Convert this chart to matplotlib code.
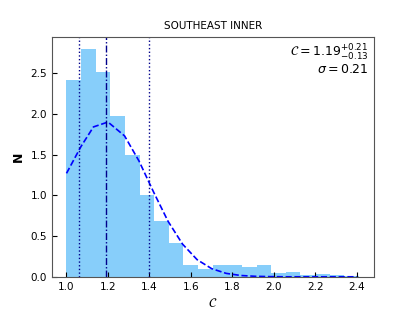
import matplotlib
matplotlib.use("Agg")
import matplotlib.pyplot as plt
import numpy as np

# Histogram (20 bins from 1.0 to 2.41)
bin_left = [1.0, 1.0705, 1.141, 1.2115, 1.282, 1.3525, 1.423, 1.4935, 1.564, 1.6345,
            1.705, 1.7755, 1.846, 1.9165, 1.987, 2.0575, 2.128, 2.1985, 2.269, 2.3395]
bin_width = 0.0705
counts = [2.41, 2.80, 2.51, 1.97, 1.49, 1.00, 0.68, 0.42, 0.14, 0.10,
          0.14, 0.15, 0.12, 0.15, 0.045, 0.053, 0.025, 0.037, 0.025, 0.015]

# Dashed fitted curve
curve_x = [1.00, 1.07, 1.13, 1.20, 1.28, 1.35, 1.42, 1.49, 1.56, 1.63, 1.70,
           1.77, 1.84, 1.91, 1.98, 2.05, 2.12, 2.19, 2.26, 2.33, 2.40]
curve_y = [1.27, 1.60, 1.84, 1.90, 1.73, 1.42, 1.04, 0.68, 0.40, 0.21, 0.10,
           0.042, 0.016, 0.006, 0.002, 0.0, 0.0, 0.0, 0.0, 0.0, 0.0]

median = 1.19
lower = 1.06
upper = 1.40

fig, ax = plt.subplots(figsize=(4.15, 3.11), dpi=100)
ax.bar(bin_left, counts, width=bin_width, align='edge', color='lightskyblue',
       edgecolor='none', linewidth=0)
ax.plot(curve_x, curve_y, '--', color='blue', lw=1.2)
ax.axvline(median, color='darkblue', lw=1.0, dashes=(5, 1.5, 1, 1.5))
ax.axvline(lower, color='darkblue', ls=':', lw=1.0)
ax.axvline(upper, color='darkblue', ls=':', lw=1.0)

ax.set_title('SOUTHEAST INNER', fontsize=7.5)
ax.set_xlabel(r'$\mathcal{C}$', fontsize=9)
ax.set_ylabel('N', fontsize=9, fontweight='bold')
ax.set_xticks([1.0, 1.2, 1.4, 1.6, 1.8, 2.0, 2.2, 2.4])
ax.set_yticks([0.0, 0.5, 1.0, 1.5, 2.0, 2.5])
ax.tick_params(direction='in', labelsize=7.5)
ax.text(0.985, 0.975, r'$\mathcal{C} = 1.19^{+0.21}_{-0.13}$' + '\n' + r'$\sigma = 0.21$',
        transform=ax.transAxes, ha='right', va='top', fontsize=9, linespacing=1.0)
for s in ax.spines.values():
    s.set_color('#555555')

fig.savefig('out.png', dpi=100)
